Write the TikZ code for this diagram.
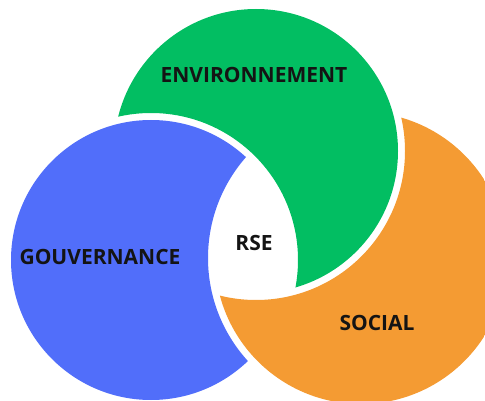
\documentclass[tikz,border=0pt]{standalone}
\usepackage{fontspec}
\setmainfont{Open Sans}
\definecolor{envgreen}{HTML}{02BE62}
\definecolor{govblue}{HTML}{516EFA}
\definecolor{socorange}{HTML}{F49B33}
\begin{document}
\begin{tikzpicture}[x=1pt,y=-1pt,
    lbl/.style={font=\bfseries\fontsize{21}{21}\selectfont,text=black!92,inner sep=0pt}]
    \clip (0,0) rectangle (485,401);
    \coordinate (G) at (256,151);% environnement
    \coordinate (B) at (151,260);% gouvernance
    \coordinate (O) at (361,258);% social
    % each disc loses a bite from the next one (plus a white gap)
    \foreach \c/\r/\n/\nr/\col in {G/142/B/147/envgreen,B/140/O/153/govblue,O/146/G/149/socorange}{
        \begin{scope}
            \clip (\c) circle (\r pt);
            \fill[\col,even odd rule] (-20,-20) rectangle (520,440) (\n) circle (\nr pt);
        \end{scope}
    }
    \node[lbl] (env) at (254,75) {ENVIRONNEMENT};
    \node[lbl] (gouv) at (100,257) {GOUVERNANCE};
    \node[lbl] (rse) at (254,243) {RSE};
    \node[lbl] (soc) at (377,323) {SOCIAL};
\end{tikzpicture}
\end{document}
